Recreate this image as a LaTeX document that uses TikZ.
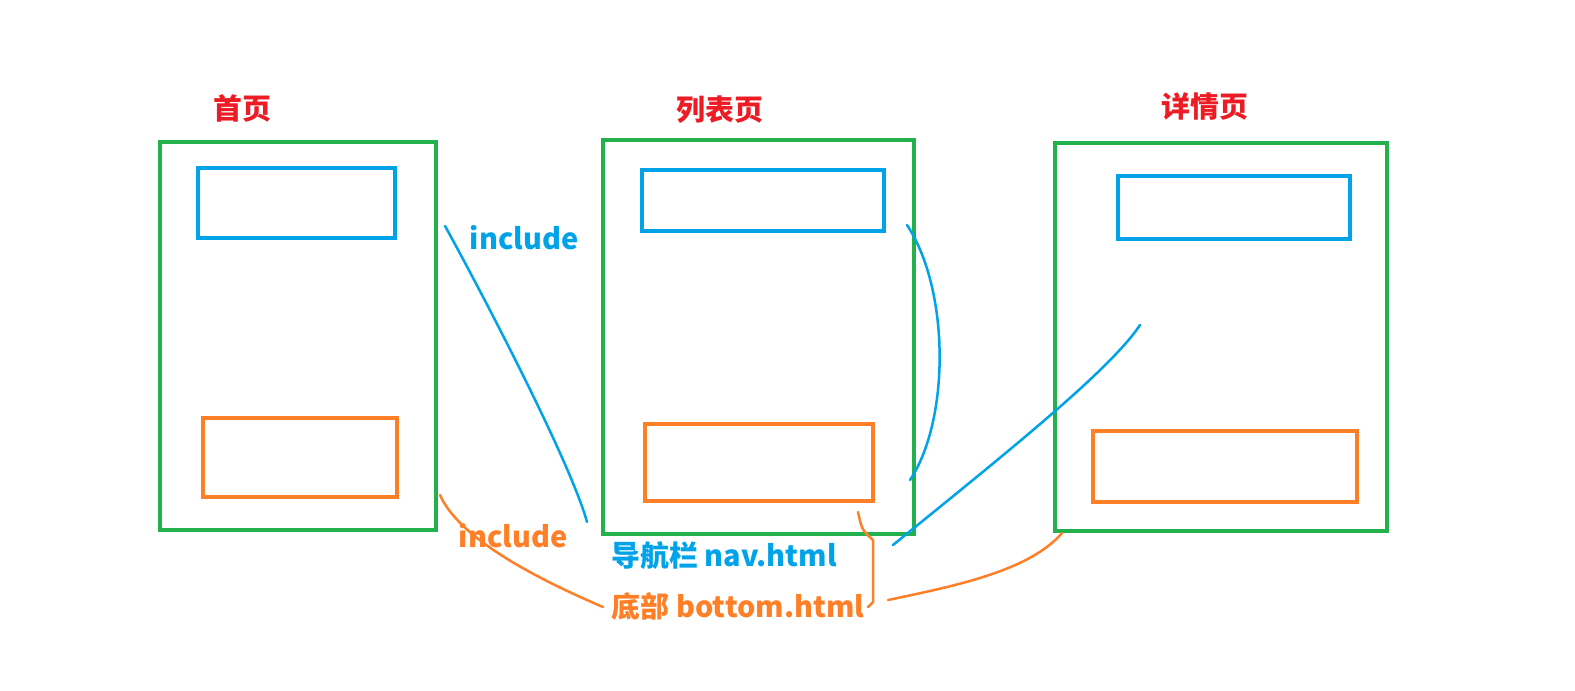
\documentclass[tikz,border=0pt]{standalone}
\usepackage{fontspec}
\setmainfont{Noto Sans CJK SC}
\usepackage{tikz}
\usetikzlibrary{positioning}
\definecolor{pgreen}{RGB}{34,177,76}
\definecolor{pblue}{RGB}{0,162,232}
\definecolor{porange}{RGB}{255,127,39}
\definecolor{pred}{RGB}{237,28,36}

\begin{document}
\begin{tikzpicture}[x=1bp,y=-1bp,
    page/.style={draw=pgreen,line width=4bp,inner sep=0pt},
    navbox/.style={draw=pblue,line width=4bp,inner sep=0pt},
    footbox/.style={draw=porange,line width=4bp,inner sep=0pt},
    title/.style={text=pred,font=\fontsize{29}{33}\selectfont\bfseries},
    lbl/.style={font=\fontsize{29}{33}\selectfont\bfseries,inner sep=0pt},
    pen/.style={line width=2.5bp,line cap=round,line join=round}]
    \useasboundingbox (0,0) rectangle (1575,691);
    % pages
    \node[page,minimum width=276bp,minimum height=388bp](home)at(298,336){};
    \node[page,minimum width=311bp,minimum height=394bp](list)at(758.5,337){};
    \node[page,minimum width=332bp,minimum height=388bp](detail)at(1221,337){};
    \node[navbox,minimum width=197bp,minimum height=70bp](nav1)at(296.5,203){};
    \node[navbox,minimum width=242bp,minimum height=61bp](nav2)at(763,200.5){};
    \node[navbox,minimum width=232bp,minimum height=63bp](nav3)at(1234,207.5){};
    \node[footbox,minimum width=194bp,minimum height=79bp](foot1)at(300,457.5){};
    \node[footbox,minimum width=228bp,minimum height=77bp](foot2)at(759,462.5){};
    \node[footbox,minimum width=264bp,minimum height=71bp](foot3)at(1225,466.5){};
    \node[title](t1)at(242,108){首页};
    \node[title](t2)at(720,110){列表页};
    \node[title](t3)at(1205,106){详情页};
    % labels
    \node[lbl,text=pblue](inc1)at(524,238){include};
    \node[lbl,text=porange](inc2)at(513,536){include};
    \node[lbl,text=pblue](navname)at(724,556){导航栏 nav.html};
    \node[lbl,text=porange](footname)at(738,606){底部 bottom.html};
    % hand drawn links
    \coordinate(a1)at(445,226); \coordinate(a2)at(587,522);
    \coordinate(b1)at(907,225); \coordinate(b2)at(910,480);
    \coordinate(c1)at(1140,325); \coordinate(c2)at(893,545);
    \coordinate(d1)at(440,495); \coordinate(d2)at(603,607);
    \coordinate(e1)at(858,512); \coordinate(e2)at(868,607);
    \coordinate(f1)at(888,600); \coordinate(f2)at(1062,533);
    \draw[pen,pblue](a1)..controls(475,280)and(570,460)..(a2);
    \draw[pen,pblue](b1)..controls(950,290)and(950,420)..(b2);
    \draw[pen,pblue](c1)..controls(1110,370)and(1010,450)..(c2);
    \draw[pen,porange](d1)..controls(460,540)and(540,580)..(d2);
    \draw[pen,porange](e1)..controls(862,530)..(873,540)--(873,602)--(e2);
    \draw[pen,porange](f1)..controls(960,585)and(1030,570)..(f2);
\end{tikzpicture}
\end{document}
